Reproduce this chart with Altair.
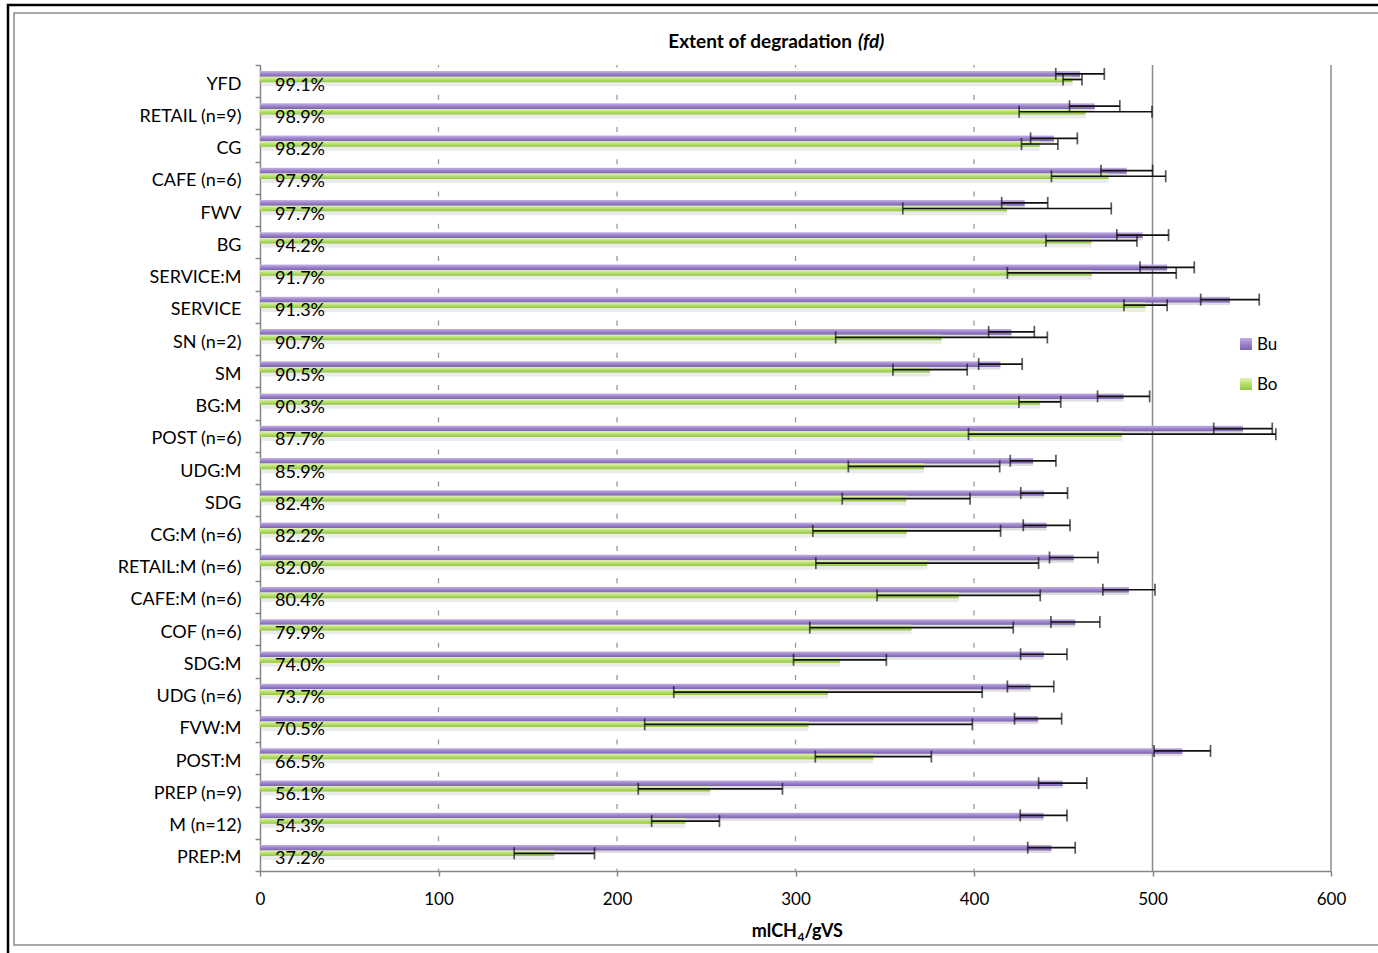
import altair as alt
import pandas as pd

# Samples, top to bottom
categories = ["YFD", "RETAIL (n=9)", "CG", "CAFE (n=6)", "FWV", "BG", "SERVICE:M",
              "SERVICE", "SN (n=2)", "SM", "BG:M", "POST (n=6)", "UDG:M", "SDG",
              "CG:M (n=6)", "RETAIL:M (n=6)", "CAFE:M (n=6)", "COF (n=6)", "SDG:M",
              "UDG (n=6)", "FVW:M", "POST:M", "PREP (n=9)", "M (n=12)", "PREP:M"]

# Ultimate methane yield (Bu) and measured yield (Bo), mlCH4/gVS, with error
bu = [459.4, 467.6, 444.8, 485.6, 428.4, 494.5, 508.2, 543.4, 421.0, 414.8, 483.8, 550.7,
      433.1, 439.3, 440.7, 455.9, 486.8, 456.8, 439.1, 431.7, 435.9, 516.7, 449.7, 439.0, 443.4]
bu_err = [13.6, 14.1, 13.1, 14.5, 12.9, 14.5, 15.2, 16.4, 12.8, 12.2, 14.6, 16.4,
          12.8, 13.1, 13.1, 13.6, 14.6, 13.7, 13.0, 13.0, 13.2, 15.8, 13.5, 13.1, 13.3]
bo = [455.2, 462.5, 436.8, 475.4, 418.5, 465.8, 466.0, 496.1, 381.8, 375.4, 436.9, 483.0,
      372.0, 362.0, 362.3, 373.8, 391.4, 365.0, 324.9, 318.2, 307.3, 343.6, 252.3, 238.4, 164.9]
bo_err = [5.3, 37.2, 10.2, 32.0, 58.4, 25.5, 47.3, 12.1, 59.3, 20.8, 11.7, 86.1,
          42.4, 35.8, 52.6, 62.4, 45.7, 57.0, 26.0, 86.4, 91.8, 32.5, 40.4, 19.0, 22.5]

# Extent of degradation fd = Bo / Bu
fd_labels = ["99.1%", "98.9%", "98.2%", "97.9%", "97.7%", "94.2%", "91.7%", "91.3%",
             "90.7%", "90.5%", "90.3%", "87.7%", "85.9%", "82.4%", "82.2%", "82.0%",
             "80.4%", "79.9%", "74.0%", "73.7%", "70.5%", "66.5%", "56.1%", "54.3%", "37.2%"]

x_ticks = [0, 100, 200, 300, 400, 500, 600]
dashed_grid = [100, 200, 300, 400]
solid_grid = [500, 600]
series_names = ["Bu", "Bo"]

W, H = 1071, 806
FONT = "Lato"
AXIS_GRAY = "#868686"
STEP = H / len(categories)

df = pd.DataFrame({"cat": categories, "bu": bu, "bo": bo, "fd": fd_labels})
df["bu_lo"] = [v - e for v, e in zip(bu, bu_err)]
df["bu_hi"] = [v + e for v, e in zip(bu, bu_err)]
df["bo_lo"] = [v - e for v, e in zip(bo, bo_err)]
df["bo_hi"] = [v + e for v, e in zip(bo, bo_err)]
df["zero"] = 0

xscale = alt.Scale(domain=[0, 600], nice=False, zero=True)
yscale = alt.Scale(domain=categories, paddingInner=0, paddingOuter=0)

x_axis = alt.Axis(
    values=x_ticks, grid=False, domainColor=AXIS_GRAY, domainWidth=1.5,
    tickColor=AXIS_GRAY, tickSize=5, tickWidth=1.5, labelFont=FONT, labelFontSize=17,
    labelColor="black", labelPadding=15, labelFlush=False, title=None,
)
y_axis = alt.Axis(
    title=None, domainColor=AXIS_GRAY, domainWidth=1.5, tickColor=AXIS_GRAY,
    tickSize=5, tickWidth=1.5, tickBand="extent", labelFont=FONT, labelFontSize=18,
    labelColor="black", labelPadding=14, labelOffset=3,
)


def X(field):
    return alt.X(f"{field}:Q", scale=xscale, axis=x_axis)


def Y():
    return alt.Y("cat:N", sort=categories, scale=yscale, axis=y_axis)


def grad(c_top, c_mid, c_bot):
    return alt.Gradient(
        gradient="linear", x1=0, x2=0, y1=0, y2=1,
        stops=[alt.GradientStop(color=c_top, offset=0),
               alt.GradientStop(color=c_mid, offset=0.5),
               alt.GradientStop(color=c_bot, offset=1)],
    )


purple = grad("#c4b2e4", "#9c82cb", "#7d62ae")
green = grad("#e2f4b4", "#b6df6c", "#92c543")

one = pd.DataFrame({"k": [0]})
base = alt.Chart(df)

# Outer frames of the figure
frames = alt.layer(
    alt.Chart(one).mark_rect(fill=None, stroke="black", strokeWidth=2.5).encode(
        x=alt.value(-252), x2=alt.value(W + 80), y=alt.value(-60), y2=alt.value(H + 120)),
    alt.Chart(one).mark_rect(fill=None, stroke="#8c8c8c", strokeWidth=1.5).encode(
        x=alt.value(-246), x2=alt.value(W + 80), y=alt.value(-52), y2=alt.value(H + 74)),
)

# Vertical gridlines: short dashes at band boundaries, solid at 500 and 600
grid_d = alt.Chart(pd.DataFrame({"v": dashed_grid})).mark_rule(
    color="#9a9a9a", strokeWidth=1.3, strokeDash=[5, STEP - 5], strokeDashOffset=2.5
).encode(x=X("v"), y=alt.value(0), y2=alt.value(H))
grid_s = alt.Chart(pd.DataFrame({"v": solid_grid})).mark_rule(
    color="#8a8a8a", strokeWidth=1.5
).encode(x=X("v"), y=alt.value(0), y2=alt.value(H))

BAR_H = 5.6
OFF_BU = -7.2
OFF_BO = -1.6

shadow_bu = base.mark_bar(height=BAR_H, yOffset=OFF_BU + 2.5, xOffset=2, color="#000000",
                          opacity=0.13).encode(x=X("zero"), x2="bu:Q", y=Y())
shadow_bo = base.mark_bar(height=BAR_H + 1.5, yOffset=OFF_BO + 3.2, xOffset=2, color="#000000",
                          opacity=0.08).encode(x=X("zero"), x2="bo:Q", y=Y())

bar_bu = base.mark_bar(height=BAR_H, yOffset=OFF_BU, fill=purple).encode(
    x=X("zero"), x2="bu:Q", y=Y())
bar_bo = base.mark_bar(height=BAR_H, yOffset=OFF_BO, fill=green).encode(
    x=X("zero"), x2="bo:Q", y=Y())


def errorbar(lo, hi, off):
    line = base.mark_rule(yOffset=off, color="#111111", strokeWidth=1.7).encode(
        x=X(lo), x2=f"{hi}:Q", y=Y())
    cap_lo = base.mark_tick(yOffset=off, size=12, thickness=1.7, color="#111111",
                            orient="vertical").encode(x=X(lo), y=Y())
    cap_hi = base.mark_tick(yOffset=off, size=12, thickness=1.7, color="#111111",
                            orient="vertical").encode(x=X(hi), y=Y())
    return alt.layer(line, cap_lo, cap_hi)


err_bu = errorbar("bu_lo", "bu_hi", OFF_BU)
err_bo = errorbar("bo_lo", "bo_hi", OFF_BO)

fd_text = base.mark_text(align="left", baseline="middle", font=FONT, fontSize=18,
                         color="black", yOffset=4.5).encode(
    x=alt.value(15), y=Y(), text="fd:N")

# Title with italic symbol
title_a = alt.Chart(one).mark_text(text="Extent of degradation", align="right",
                                   baseline="middle", font=FONT, fontSize=19,
                                   fontWeight="bold", color="black").encode(
    x=alt.value(592), y=alt.value(-23))
title_b = alt.Chart(one).mark_text(text="(fd)", align="left", baseline="middle", font=FONT,
                                   fontSize=19, fontWeight="bold", fontStyle="italic",
                                   color="black").encode(x=alt.value(598), y=alt.value(-23))

# X axis title with subscript: mlCH4/gVS
AXT_Y = H + 66
xt_main = alt.Chart(one).mark_text(text="mlCH", align="right", baseline="alphabetic",
                                   font=FONT, fontSize=18, fontWeight="bold",
                                   color="black").encode(x=alt.value(537), y=alt.value(AXT_Y))
xt_sub = alt.Chart(one).mark_text(text="4", align="left", baseline="alphabetic",
                                  font=FONT, fontSize=12, fontWeight="bold",
                                  color="black").encode(x=alt.value(537.5), y=alt.value(AXT_Y + 3.5))
xt_rest = alt.Chart(one).mark_text(text="/gVS", align="left", baseline="alphabetic",
                                   font=FONT, fontSize=18, fontWeight="bold",
                                   color="black").encode(x=alt.value(544.5), y=alt.value(AXT_Y))

# Legend
leg_bu = alt.Chart(one).mark_rect(fill=grad("#c2b0e2", "#9c82cb", "#7d62ae")).encode(
    x=alt.value(980), x2=alt.value(992), y=alt.value(273), y2=alt.value(285))
leg_bo = alt.Chart(one).mark_rect(fill=grad("#e2f4b4", "#b6df6c", "#92c543")).encode(
    x=alt.value(980), x2=alt.value(992), y=alt.value(313), y2=alt.value(325))
leg_txt_bu = alt.Chart(one).mark_text(text=series_names[0], align="left", baseline="middle",
                                      font=FONT, fontSize=17, color="black").encode(
    x=alt.value(997), y=alt.value(280))
leg_txt_bo = alt.Chart(one).mark_text(text=series_names[1], align="left", baseline="middle",
                                      font=FONT, fontSize=17, color="black").encode(
    x=alt.value(997), y=alt.value(320))

chart = alt.layer(
    frames, grid_d, grid_s, shadow_bu, shadow_bo, bar_bu, bar_bo, err_bu, err_bo,
    fd_text, title_a, title_b, xt_main, xt_sub, xt_rest,
    leg_bu, leg_bo, leg_txt_bu, leg_txt_bo,
).properties(
    width=W, height=H,
    autosize=alt.AutoSizeParams(type="none"),
    padding={"left": 260, "top": 65, "right": 47, "bottom": 82},
    background="white",
).configure_view(stroke=None)

chart.save("out.html", embed_options={"renderer": "svg", "actions": False})
